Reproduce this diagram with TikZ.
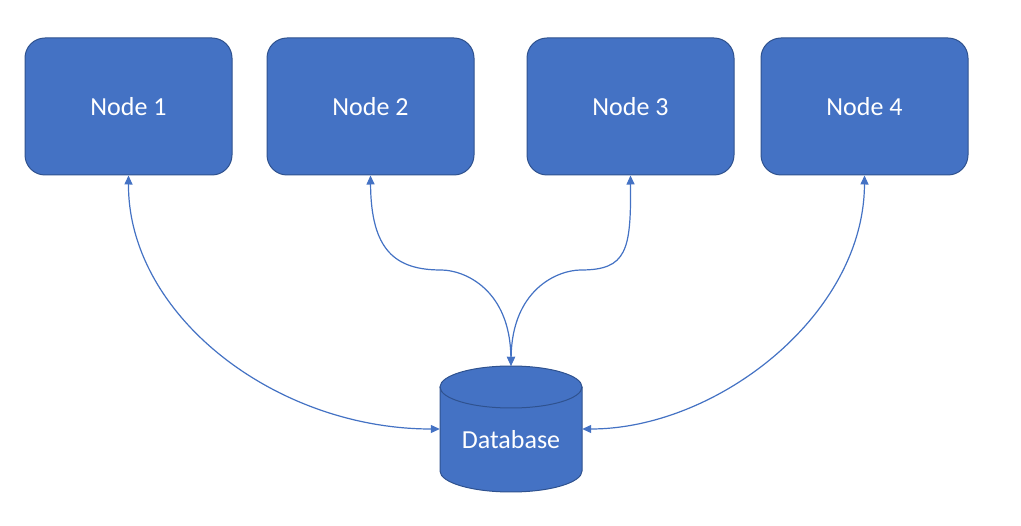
\documentclass[tikz,border=0pt]{standalone}
\usepackage{fontspec}
\setmainfont{Carlito}
\usetikzlibrary{arrows.meta}
\definecolor{ofblue}{HTML}{4472C4}
\definecolor{ofborder}{HTML}{2F528F}
\tikzset{
  box/.style={draw=ofborder, line width=1pt, fill=ofblue, rounded corners=20pt,
    minimum width=207pt, minimum height=137pt, inner sep=0pt,
    text=white, font=\fontsize{26}{30}\selectfont},
  conn/.style={draw=ofblue, line width=1.2pt,
    {Triangle[length=9pt,width=8pt]}-{Triangle[length=9pt,width=8pt]}},
  lbl/.style={text=white, font=\fontsize{26}{30}\selectfont, inner sep=0pt}
}
\begin{document}
\begin{tikzpicture}[x=1pt,y=-1pt]
\useasboundingbox (0,0) rectangle (1021,526);
\fill[white] (0,0) rectangle (1021,526);
\node[box] (n1) at (128.5,106.5) {Node 1};
\node[box] (n2) at (370.5,106.5) {Node 2};
\node[box] (n3) at (630.5,106.5) {Node 3};
\node[box] (n4) at (864.5,106.5) {Node 4};
% database cylinder
\fill[ofblue] (440,387) -- (440,471) arc[start angle=180, end angle=0, x radius=71, y radius=21]
  -- (582,387) arc[start angle=0, end angle=-180, x radius=71, y radius=21] -- cycle;
\draw[ofborder, line width=1pt] (440,387) -- (440,471) arc[start angle=180, end angle=0, x radius=71, y radius=21]
  -- (582,387);
\draw[ofborder, line width=1pt] (511,387) ellipse[x radius=71, y radius=21];
\node[minimum width=142pt, minimum height=126pt, inner sep=0pt] (db) at (511,429) {};
\node[lbl] (dbl) at (511,440) {Database};
% connectors
\draw[conn] (n1.south) .. controls (128,315) and (275,429) .. (db.west);
\draw[conn] (n4.south) .. controls (864,315) and (717,429) .. (db.east);
\draw[conn] (n2.south) .. controls (371,250) and (395,270) .. (441,270)
  .. controls (465,270) and (510,290) .. (db.north);
\draw[conn] (n3.south) .. controls (631,250) and (627,270) .. (581,270)
  .. controls (557,270) and (512,290) .. (db.north);
\end{tikzpicture}
\end{document}
